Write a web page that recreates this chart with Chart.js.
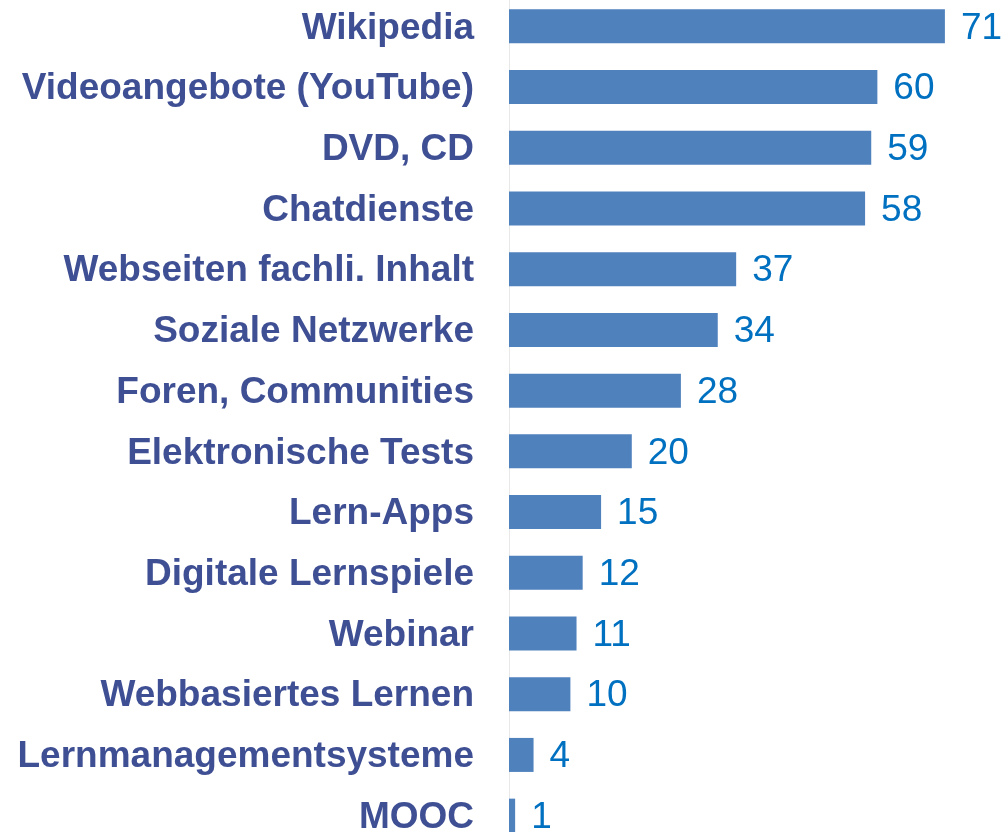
<!DOCTYPE html>
<html>
<head>
<meta charset="utf-8">
<script src="https://cdn.jsdelivr.net/npm/chart.js@4/dist/chart.umd.min.js"></script>
<style>
  html, body { margin: 0; padding: 0; background: #fff; overflow: hidden; }
  #wrap { position: absolute; left: 0; top: -4px; width: 1002px; height: 850px; }
</style>
</head>
<body>
<div id="wrap"><canvas id="chart" width="1002" height="850"></canvas></div>
<script>
var categories = [
    "Wikipedia", "Videoangebote (YouTube)", "DVD, CD", "Chatdienste",
    "Webseiten fachli. Inhalt", "Soziale Netzwerke", "Foren, Communities",
    "Elektronische Tests", "Lern-Apps", "Digitale Lernspiele", "Webinar",
    "Webbasiertes Lernen", "Lernmanagementsysteme", "MOOC"
];
var values = [71, 60, 59, 58, 37, 34, 28, 20, 15, 12, 11, 10, 4, 1];

// draws the number to the right of each bar
const valueLabels = {
    id: 'valueLabels',
    afterDatasetsDraw(chart) {
        const ctx = chart.ctx;
        const meta = chart.getDatasetMeta(0);
        ctx.save();
        ctx.font = '37px "Liberation Sans", Arial, sans-serif';
        ctx.fillStyle = '#0070C0';
        ctx.textAlign = 'left';
        ctx.textBaseline = 'middle';
        meta.data.forEach((bar, i) => {
            ctx.fillText(String(values[i]), bar.x + 16, bar.y + 2);
        });
        ctx.restore();
    }
};

new Chart(document.getElementById('chart'), {
    type: 'bar',
    data: {
        labels: categories,
        datasets: [{
            data: values,
            backgroundColor: '#4F81BD',
            borderWidth: 0,
            barPercentage: 0.56,
            categoryPercentage: 1
        }]
    },
    options: {
        indexAxis: 'y',
        responsive: false,
        animation: false,
        layout: { padding: 0 },
        plugins: { legend: { display: false }, tooltip: { enabled: false } },
        scales: {
            x: {
                display: false,
                min: 0,
                max: 80.3
            },
            y: {
                afterFit: (scale) => {
                    scale.width = 509;
                    scale.paddingTop = 0;
                    scale.paddingBottom = 0;
                },
                border: { display: true, color: '#E8E8E8', width: 1 },
                grid: { display: false, drawTicks: false },
                ticks: {
                    padding: 35,
                    labelOffset: 2,
                    color: '#3F4F94',
                    font: { family: '"Liberation Sans", Arial, sans-serif', size: 37, weight: 'bold' }
                }
            }
        }
    },
    plugins: [valueLabels]
});
</script>
</body>
</html>
